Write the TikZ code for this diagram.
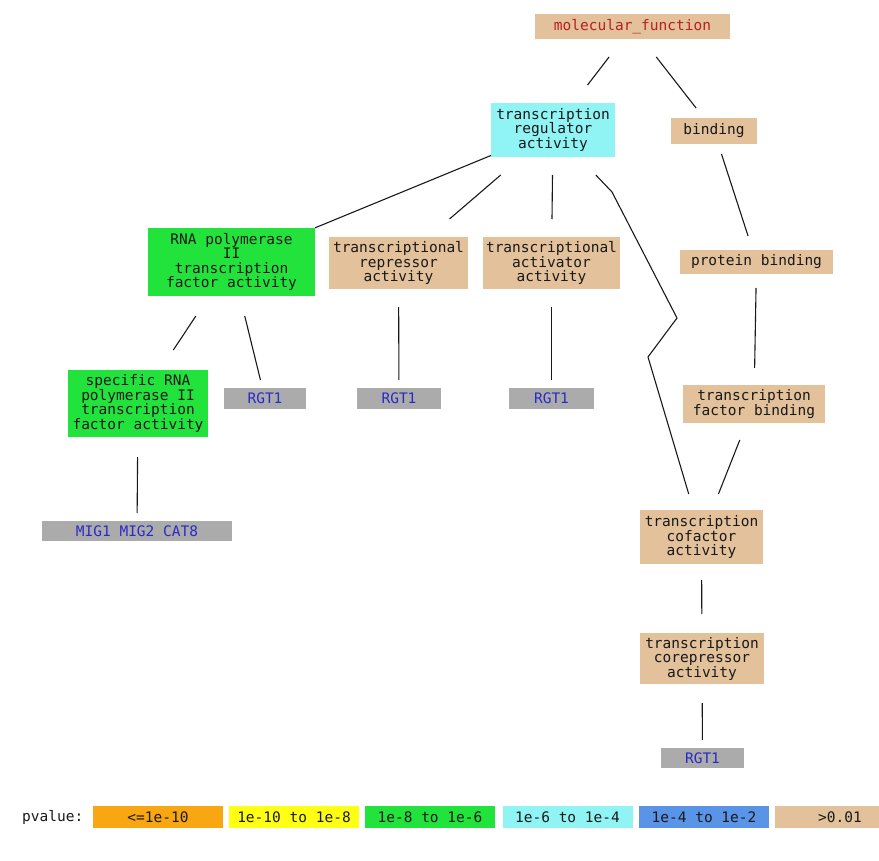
\documentclass[tikz,border=0pt]{standalone}
\usepackage{fontspec}
\usepackage{xcolor}
\usepackage{tikz}
\newfontfamily\gomono{DejaVu Sans Mono}
\definecolor{gotan}{HTML}{E2C19B}
\definecolor{gogreen}{HTML}{22E23C}
\definecolor{gocyan}{HTML}{90F4F4}
\definecolor{gogray}{HTML}{ABABAB}
\definecolor{goorange}{HTML}{F8A612}
\definecolor{goyellow}{HTML}{FFFF14}
\definecolor{goblue}{HTML}{5A94E6}
\definecolor{genetext}{HTML}{2A2AC8}
\definecolor{rootred}{HTML}{B82020}
\tikzset{every picture/.append style={font={\gomono\fontsize{14.5}{14.5}\selectfont}}}
\tikzset{
  term/.style={rectangle,fill=gotan,inner sep=0pt,outer xsep=0pt,outer ysep=18pt,align=center,text=black!90},
  gene/.style={rectangle,fill=gogray,inner sep=0pt,outer xsep=0pt,outer ysep=8pt,text=genetext,minimum height=21pt},
  key/.style={rectangle,inner sep=0pt,minimum width=130pt,minimum height=22pt,text=black!90},
  link/.style={draw=black!90,line width=1.1pt}
}

\begin{document}
\begin{tikzpicture}[x=1pt,y=-1pt]
    \useasboundingbox (0,0) rectangle (879,861);
    \node[term,text=rootred,minimum width=195pt,minimum height=25pt] (mf) at (632.5,26.5) {molecular\_function};
    \node[term,fill=gocyan,minimum width=124pt,minimum height=54pt] (tra) at (553,130) {transcription\\regulator\\activity};
    \node[term,outer ysep=10pt,minimum width=86pt,minimum height=26pt] (bind) at (714,131) {binding};
    \node[term,fill=gogreen,outer ysep=20pt,minimum width=167pt,minimum height=68pt] (rnap) at (231.5,262) {RNA polymerase\\II\\transcription\\factor activity};
    \node[term,minimum width=139pt,minimum height=52pt] (rep) at (398.5,263) {transcriptional\\repressor\\activity};
    \node[term,minimum width=137pt,minimum height=52pt] (act) at (551.5,263) {transcriptional\\activator\\activity};
    \node[term,outer ysep=14pt,minimum width=153pt,minimum height=24pt] (pb) at (756.5,262) {protein binding};
    \node[term,fill=gogreen,outer ysep=20pt,minimum width=140pt,minimum height=67pt] (spec) at (138,403.5) {specific RNA\\polymerase II\\transcription\\factor activity};
    \node[term,outer ysep=17pt,minimum width=142pt,minimum height=38pt] (tfb) at (754,404) {transcription\\factor binding};
    \node[term,outer ysep=16pt,minimum width=123pt,minimum height=54pt] (cof) at (701.5,537) {transcription\\cofactor\\activity};
    \node[term,outer ysep=19pt,minimum width=124pt,minimum height=51pt] (cor) at (702,658.5) {transcription\\corepressor\\activity};
    \node[gene,minimum width=82pt] (g1) at (265,398.5) {RGT1};
    \node[gene,minimum width=84pt] (g2) at (399,398.5) {RGT1};
    \node[gene,minimum width=85pt] (g3) at (551.5,398.5) {RGT1};
    \node[gene,minimum width=190pt,minimum height=20pt] (g4) at (137,531) {MIG1 MIG2 CAT8};
    \node[gene,minimum width=83pt,minimum height=20pt] (g5) at (702.5,758) {RGT1};
    \coordinate (b1) at (612,192);
    \coordinate (b2) at (677,318);
    \coordinate (b3) at (648,357);
    \draw[link] (mf) -- (tra);
    \draw[link] (mf) -- (bind);
    \draw[link] (bind) -- (pb);
    \draw[link] (pb) -- (tfb);
    \draw[link] (tfb) -- (cof);
    \draw[link] (tra) -- (rnap);
    \draw[link] (tra) -- (rep);
    \draw[link] (tra) -- (act);
    \draw[link] (tra) -- (b1) -- (b2) -- (b3) -- (cof);
    \draw[link] (rnap) -- (spec);
    \draw[link] (rnap) -- (g1);
    \draw[link] (rep) -- (g2);
    \draw[link] (act) -- (g3);
    \draw[link] (spec) -- (g4);
    \draw[link] (cof) -- (cor);
    \draw[link] (cor) -- (g5);
    \node[anchor=west,inner sep=0pt,text=black!90] (pv) at (22,817) {pvalue:};
    \node[key,fill=goorange] (k1) at (158,817) {<=1e-10};
    \node[key,fill=goyellow] (k2) at (294,817) {1e-10 to 1e-8};
    \node[key,fill=gogreen] (k3) at (430,817) {1e-8 to 1e-6};
    \node[key,fill=gocyan] (k4) at (567.5,817) {1e-6 to 1e-4};
    \node[key,fill=goblue] (k5) at (704,817) {1e-4 to 1e-2};
    \node[key,fill=gotan] (k6) at (840,817) {>0.01};
  \end{tikzpicture}
\end{document}
